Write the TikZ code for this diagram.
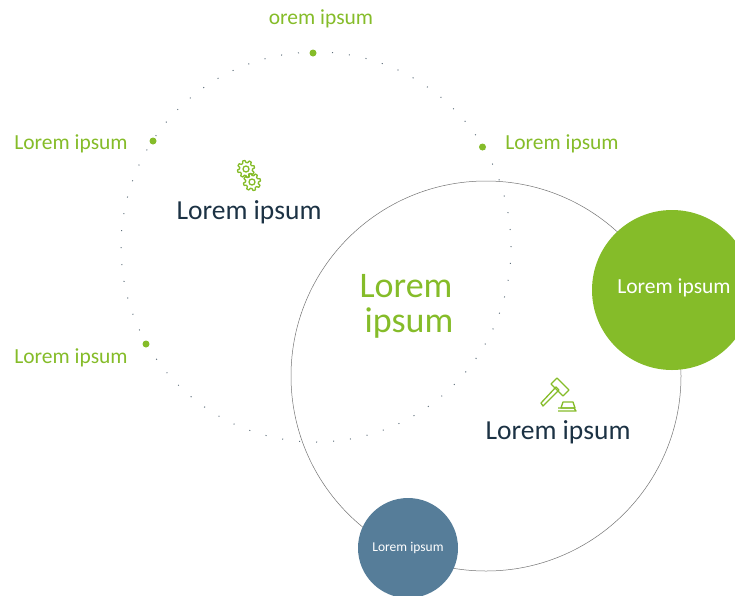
\documentclass[tikz,border=0pt]{standalone}
\usepackage{fontspec}
\setmainfont{Carlito}
\definecolor{leaf}{RGB}{133,188,41}
\definecolor{ink}{RGB}{28,50,68}
\definecolor{slate}{RGB}{86,125,153}
\newcommand{\gearicon}[2]{%
  \draw[icon,shift={(#1,#2)}] plot[smooth cycle,tension=0.15] coordinates {
    (0:6.5) (15:6.5) (22:8.6) (38:8.6) (45:6.5) (60:6.5) (67:8.6) (83:8.6)
    (90:6.5) (105:6.5) (112:8.6) (128:8.6) (135:6.5) (150:6.5) (157:8.6) (173:8.6)
    (180:6.5) (195:6.5) (202:8.6) (218:8.6) (225:6.5) (240:6.5) (247:8.6) (263:8.6)
    (270:6.5) (285:6.5) (292:8.6) (308:8.6) (315:6.5) (330:6.5) (337:8.6) (353:8.6)};
  \draw[icon] (#1,#2) circle (3);
}
\tikzset{
  every node/.style={align=center,inner sep=0pt},
  bigring/.style={shape=circle,draw=black!55,line width=0.5pt,minimum size=390pt},
  dotring/.style={shape=circle,draw=ink!70,line width=1pt,minimum size=390pt,dash pattern=on 1pt off 16.02pt},
  bubble/.style={shape=circle,text=white},
  tick/.style={shape=circle,fill=leaf,minimum size=7pt},
  side/.style={text=leaf,font=\fontsize{21.5}{24}\selectfont},
  title/.style={text=ink,font=\fontsize{27.5}{30}\selectfont},
  icon/.style={draw=leaf,line width=1.3pt,line join=round}
}
\begin{document}
\begin{tikzpicture}[x=1pt,y=-1pt]
\useasboundingbox (0,0) rectangle (735,595);
\clip (0,0) rectangle (735,595);
\node[bigring] (ring) at (486,376) {};
\node[dotring] (dots) at (316,247) {};
\node[bubble,fill=leaf,minimum size=160pt,font=\fontsize{21.5}{24}\selectfont] (green) at (672,290) {};
\node[text=white,font=\fontsize{21.5}{24}\selectfont] (greentext) at (674,288) {Lorem ipsum};
\node[bubble,fill=slate,minimum size=100pt,font=\fontsize{13.5}{16}\selectfont] (blue) at (408,548) {Lorem ipsum};
% points on the dotted ring
\node[tick] (top) at (313,53) {};
\node[tick] (left) at (153,141) {};
\node[tick] (right) at (482.5,147) {};
\node[tick] (low) at (146,344) {};
\node[side] (toptext) at (321,19) {orem ipsum};
\node[side] (lefttext) at (71,144) {Lorem ipsum};
\node[side] (righttext) at (562,144) {Lorem ipsum};
\node[side] (lowtext) at (71,358) {Lorem ipsum};
\node[title] (gearstext) at (249,212) {Lorem ipsum};
\node[title] (gaveltext) at (558,432) {Lorem ipsum};
\node[text=leaf,font=\fontsize{36}{35}\selectfont] (middle) at (406,306) {Lorem\\ \hspace*{6pt}ipsum};
% gears
\gearicon{246}{169}
\gearicon{252}{182}
% gavel
\begin{scope}[icon]
\draw (541,403) -- (543,406) -- (559,390) -- (556,387) -- cycle;
\draw (551,384) -- (557,378) -- (569,390) -- (563,396) -- cycle;
\draw (558,408) -- (574,408) -- (576,411) -- (576,411) -- (558,411);
\draw (563,402) -- (573,402) -- (575,408) -- (561,408) -- cycle;
\end{scope}
\end{tikzpicture}
\end{document}
